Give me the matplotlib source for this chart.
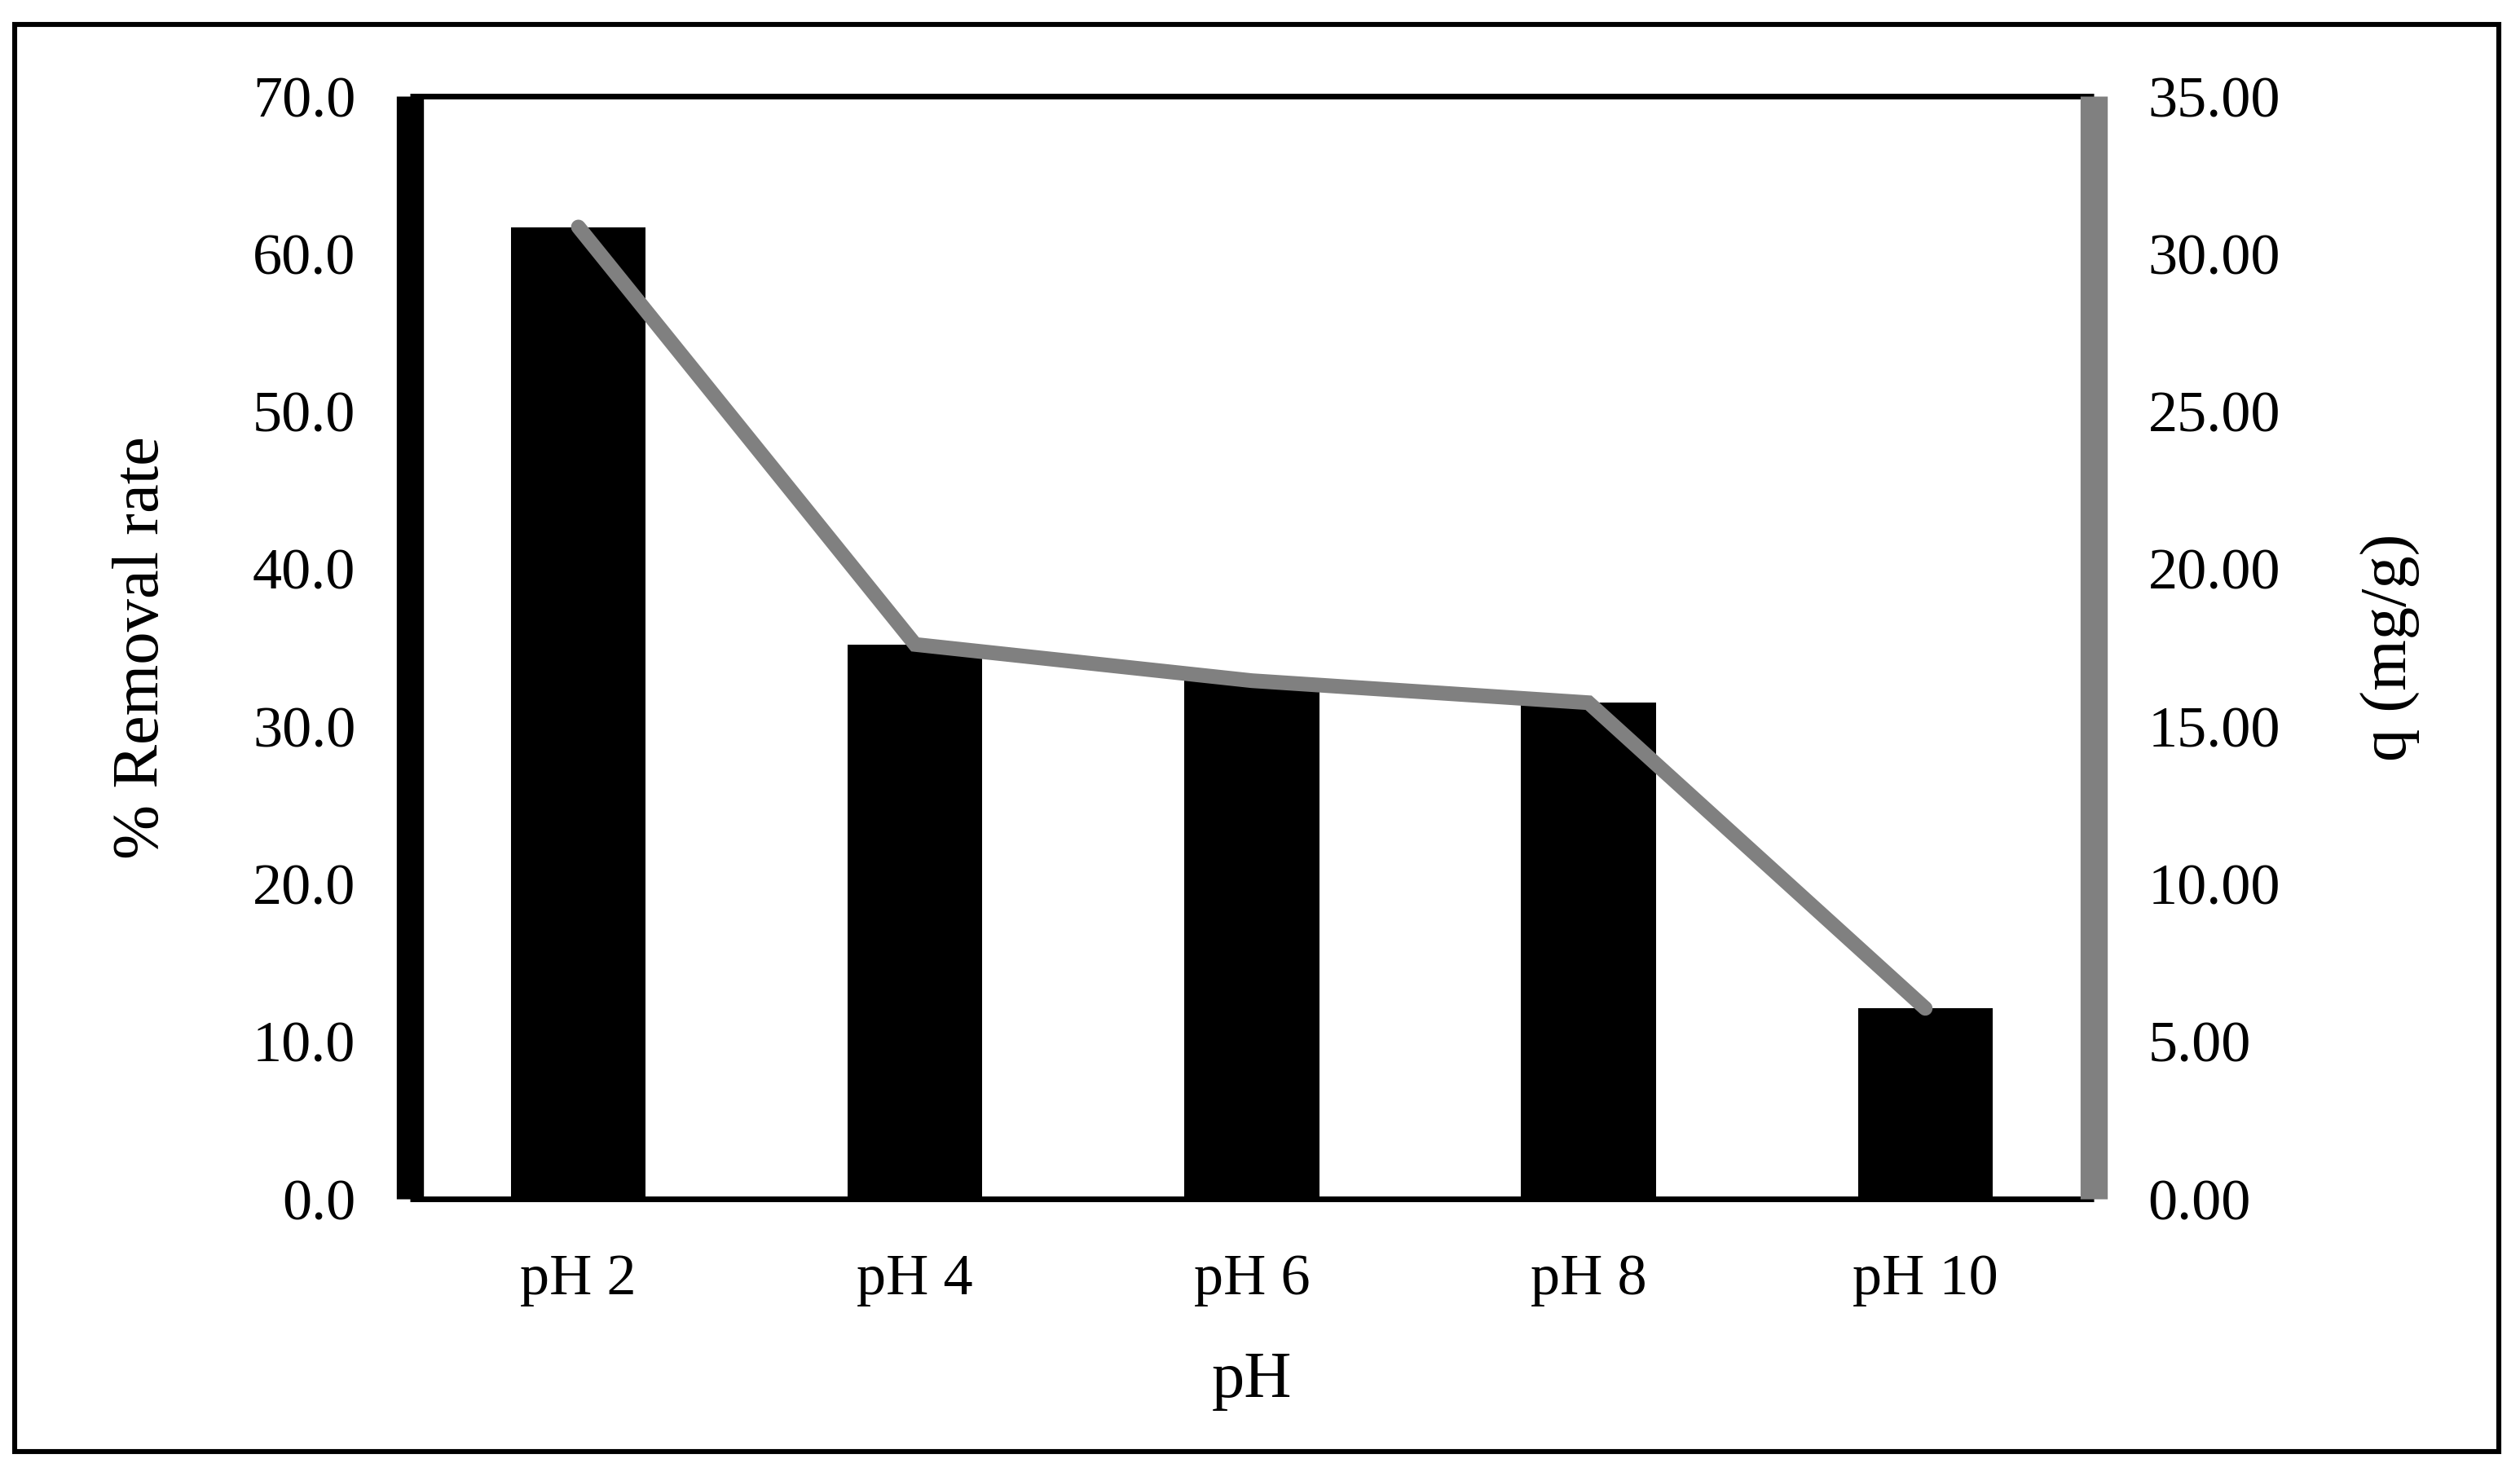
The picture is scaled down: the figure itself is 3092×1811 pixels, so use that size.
import numpy as np
import matplotlib.pyplot as plt
from matplotlib.patches import Rectangle
from matplotlib.ticker import FormatStrFormatter

plt.rcParams['font.family'] = ['Liberation Serif', 'DejaVu Serif']

# data
ph_labels = ['pH 2', 'pH 4', 'pH 6', 'pH 8', 'pH 10']
removal = [61.7, 35.2, 32.9, 31.5, 12.1]      # % removal rate (bars, left axis)
q_mgg = [30.85, 17.6, 16.45, 15.75, 6.05]     # q in mg/g (line, right axis)

fig = plt.figure(figsize=(15.46, 9.055), dpi=200)
ax = fig.add_axes([0.1627, 0.1877, 0.6681, 0.7471])
ax2 = ax.twinx()

x = np.arange(len(ph_labels))

# bars
ax.bar(x, removal, width=0.40, color='black', zorder=2)

# line
ax2.plot(x, q_mgg, color='#808080', linewidth=6.5, solid_capstyle='round',
         solid_joinstyle='miter', zorder=3)

# axes limits / ticks
ax.set_xlim(-0.5, 4.5)
ax.set_ylim(0, 70)
ax.set_yticks(np.arange(0, 71, 10))
ax.yaxis.set_major_formatter(FormatStrFormatter('%.1f'))
ax2.set_ylim(0, 35)
ax2.set_yticks(np.arange(0, 36, 5))
ax2.yaxis.set_major_formatter(FormatStrFormatter('%.2f'))
ax.set_xticks(x)
ax.set_xticklabels(ph_labels)

ax.tick_params(axis='y', length=0, pad=24, labelsize=26)
ax.tick_params(axis='x', length=0, pad=24, labelsize=26)
ax2.tick_params(axis='y', length=0, pad=24, labelsize=26)

# spines
ax.spines['left'].set_linewidth(12)
ax.spines['left'].set_color('black')
ax.spines['top'].set_linewidth(2.5)
ax.spines['bottom'].set_linewidth(2.5)
ax.spines['right'].set_visible(False)
for s in ['left', 'top', 'bottom']:
    ax2.spines[s].set_visible(False)
ax2.spines['right'].set_linewidth(12)
ax2.spines['right'].set_color('#808080')
for sp in list(ax.spines.values()) + list(ax2.spines.values()):
    sp.set_capstyle('butt')

# labels
ax.set_xlabel('pH', fontsize=29, labelpad=20)
ax.set_ylabel('% Removal rate', fontsize=29, va='center')
ax.yaxis.set_label_coords(-0.159, 0.5)
ax2.set_ylabel('q (mg/g)', fontsize=29, va='center')
ax2.yaxis.set_label_coords(1.1767, 0.5)

# outer frame
fig.patches.append(Rectangle((0.00582, 0.01657), 0.9858, 0.9669,
                             transform=fig.transFigure, fill=False,
                             edgecolor='black', linewidth=2.2))

fig.savefig('out.png', dpi=200)
